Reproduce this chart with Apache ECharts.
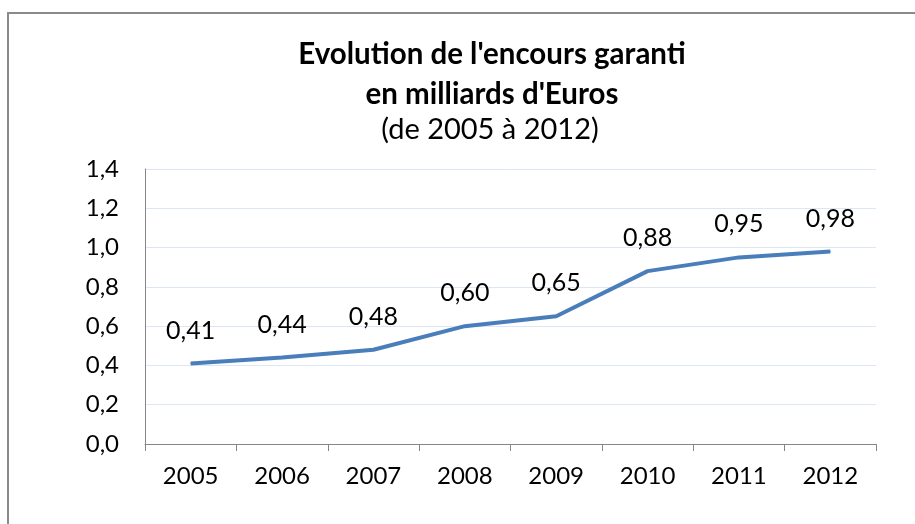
<!DOCTYPE html>
<html>
<head>
<meta charset="utf-8">
<script src="https://cdn.jsdelivr.net/npm/echarts@6/dist/echarts.min.js"></script>
<style>
  html, body { margin: 0; padding: 0; background: #fff; }
  #chart { width: 915px; height: 524px; }
</style>
</head>
<body>
<div id="chart"></div>
<script>
const years = ['2005', '2006', '2007', '2008', '2009', '2010', '2011', '2012']
const encours = [0.41, 0.44, 0.48, 0.60, 0.65, 0.88, 0.95, 0.98]

const font = 'Lato, "Open Sans", sans-serif'
const fmt = v => v.toFixed(1).replace('.', ',')

const chart = echarts.init(document.getElementById('chart'))
chart.setOption({
  animation: false,
  backgroundColor: '#fff',
  textStyle: { fontFamily: font },
  graphic: [{
    type: 'rect',
    shape: { x: 8, y: 13, width: 1000, height: 600 },
    style: { fill: 'none', stroke: '#8a8a8a', lineWidth: 2 }
  }, {
    type: 'text',
    x: 492,
    y: 34,
    style: {
      text: "Evolution de l'encours garanti\nen milliards d'Euros",
      align: 'center',
      font: 'bold 29.5px ' + font, fill: '#000', lineHeight: 40
    }
  }, {
    type: 'text',
    x: 490,
    y: 115,
    style: {
      text: '(de 2005 à 2012)',
      align: 'center',
      font: '29px ' + font, fill: '#000'
    }
  }],
  grid: { left: 145, right: 39, top: 169, bottom: 80 },
  xAxis: {
    type: 'category',
    data: years,
    boundaryGap: true,
    axisLine: { lineStyle: { color: '#868686', width: 1 } },
    axisTick: { show: true, length: 7, lineStyle: { color: '#868686' } },
    axisLabel: { color: '#000', fontSize: 24, margin: 20, fontFamily: font }
  },
  yAxis: {
    type: 'value',
    min: 0,
    max: 1.4,
    interval: 0.2,
    axisLine: { show: true, lineStyle: { color: '#868686', width: 1 } },
    axisTick: { show: false },
    axisLabel: { color: '#000', fontSize: 24, margin: 26, fontFamily: font, formatter: fmt },
    splitLine: { lineStyle: { color: '#dde7f3', width: 1 } }
  },
  series: [{
    type: 'line',
    data: encours,
    symbol: 'circle',
    symbolSize: 1,
    itemStyle: { color: '#4a7ebb' },
    lineStyle: { color: '#4a7ebb', width: 4 },
    label: {
      show: true,
      position: 'top',
      distance: 20,
      color: '#000',
      fontSize: 25,
      fontFamily: font,
      formatter: p => p.value.toFixed(2).replace('.', ',')
    }
  }]
})
</script>
</body>
</html>
